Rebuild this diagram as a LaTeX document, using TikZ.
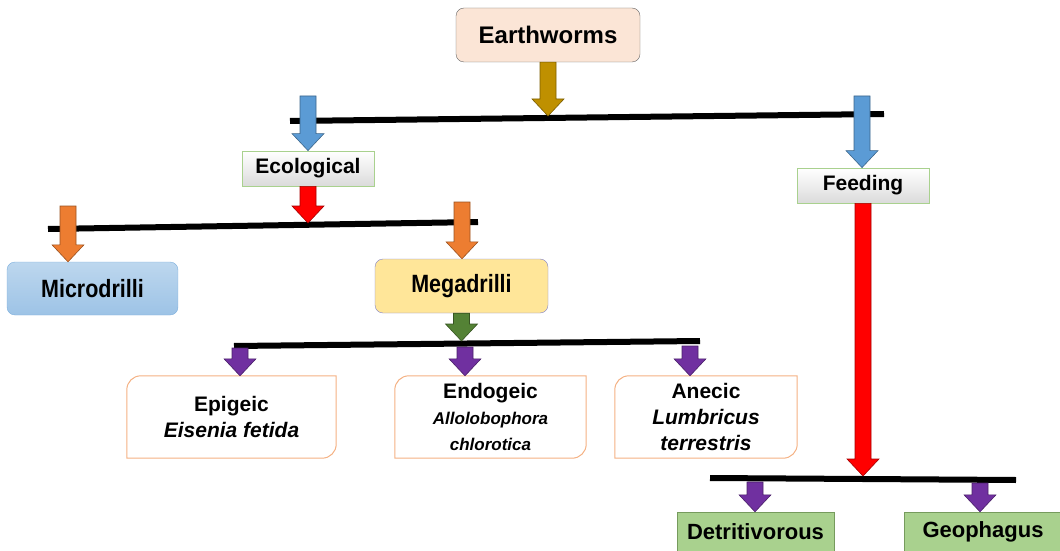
\documentclass[tikz,border=0pt]{standalone}
\usepackage{fontspec}
\setmainfont{Liberation Sans}
\usepackage{graphicx}
\usepackage{tikz}
\usetikzlibrary{calc}
\definecolor{peach}{HTML}{FBE5D6}
\definecolor{gold}{HTML}{BF9000}
\definecolor{skyblue}{HTML}{5B9BD5}
\definecolor{orng}{HTML}{ED7D31}
\definecolor{leaf}{HTML}{548235}
\definecolor{violet}{HTML}{7030A0}
\definecolor{lightgreen}{HTML}{A9D18E}
\definecolor{paleorange}{HTML}{F4B183}
\definecolor{paleblue}{HTML}{BDD7EE}
\definecolor{midblue}{HTML}{9DC3E6}
\definecolor{butter}{HTML}{FFE699}
\newcommand\spname[1]{{\itshape #1}}
\newcommand\smallsp[1]{{\fontsize{17}{22}\selectfont\itshape #1}}
\newcommand\narrow[1]{\scalebox{0.86}[1]{\fontsize{25}{28}\selectfont #1}}

\begin{document}
\begin{tikzpicture}[x=1pt,y=1pt,
  lbl/.style={font=\fontsize{21}{26}\selectfont\bfseries,inner sep=0pt,align=center},
  bar/.style={line width=6pt},
  barrow/.style={fill=#1,draw=#1!65!black,line width=0.6pt,
    to path={let \p1=(\tikztostart),\p2=(\tikztotarget) in
      (\x1-8pt,\y1) -- (\x1+8pt,\y1) -- (\x1+8pt,\y2+17pt) -- (\x1+16pt,\y2+17pt)
      -- (\x1,\y2) -- (\x1-16pt,\y2+17pt) -- (\x1-8pt,\y2+17pt) -- cycle}}]
  \useasboundingbox (0,0) rectangle (1060,550);

  \node[lbl,font=\fontsize{24}{28}\selectfont\bfseries,draw=gray!80!black,fill=peach,rounded corners=8pt,
    minimum width=184pt,minimum height=54pt] (ew) at (548,515) {Earthworms};
  \node[lbl,draw=lightgreen,line width=0.8pt,top color=white,bottom color=gray!28,
    minimum width=132pt,minimum height=35pt] (eco) at (308,381.5) {Ecological};
  \node[lbl,draw=lightgreen,line width=0.8pt,top color=white,bottom color=gray!28,
    minimum width=132pt,minimum height=35pt] (feed) at (863,364.5) {Feeding};
  \node[lbl,draw=skyblue!80,top color=paleblue,bottom color=midblue,rounded corners=8pt,
    minimum width=171pt,minimum height=53pt] (micro) at (92.5,261.5) {\narrow{Microdrilli}};
  \node[lbl,draw=gray!60!blue!70,fill=butter,rounded corners=8pt,
    minimum width=173pt,minimum height=54pt] (mega) at (461.5,264) {\narrow{Megadrilli}};
  \node[lbl,minimum width=209pt,minimum height=82pt] (epi) at (231.5,133)
    {Epigeic\\\spname{Eisenia fetida}};
  \node[lbl,minimum width=191pt,minimum height=82pt] (endo) at (490.5,133)
    {Endogeic\\\smallsp{Allolobophora}\\\smallsp{chlorotica}};
  \node[lbl,minimum width=182pt,minimum height=82pt] (ane) at (706,133)
    {Anecic\\\spname{Lumbricus}\\\spname{terrestris}};
  \node[lbl,font=\fontsize{22}{26}\selectfont\bfseries,draw=leaf!80,fill=lightgreen,
    minimum width=157pt,minimum height=40pt] (detr) at (755.5,18) {Detritivorous};
  \node[lbl,font=\fontsize{22}{26}\selectfont\bfseries,draw=leaf!80,fill=lightgreen,
    minimum width=158pt,minimum height=40pt] (geo) at (983,18) {Geophagus};

  \foreach \n in {epi,endo,ane}
    \draw[paleorange,line width=1pt] ([xshift=14pt]\n.north west) -- (\n.north east)
      -- ([yshift=14pt]\n.south east) arc[start angle=0,end angle=-90,radius=14pt]
      -- (\n.south west) -- ([yshift=-14pt]\n.north west)
      arc[start angle=180,end angle=90,radius=14pt] -- cycle;

  \coordinate (b1w) at (290,429);
  \coordinate (b1e) at (884,436);
  \coordinate (b2w) at (48,321);
  \coordinate (b2e) at (478,328);
  \coordinate (b3w) at (234,204);
  \coordinate (b3e) at (700,209);
  \coordinate (b4w) at (710,72);
  \coordinate (b4e) at (1016,70);
  \draw[bar] (b1w) -- (b1e);
  \draw[bar] (b2w) -- (b2e);
  \draw[bar] (b3w) -- (b3e);
  \draw[bar] (b4w) -- (b4e);

  \coordinate (b1m) at (546,434);
  \coordinate (ecot) at (308,454);
  \coordinate (fet) at (862,454);
  \coordinate (b2m) at (310,327);
  \coordinate (mit) at (68,344);
  \coordinate (met) at (462,348);
  \coordinate (b3m) at (465,209);
  \coordinate (p1) at (240,202);
  \coordinate (p2) at (465,203);
  \coordinate (p3) at (690,204);
  \coordinate (b4m) at (862,74);
  \coordinate (q1) at (755,68);
  \coordinate (q2) at (980,67);

  \draw[barrow=gold] (ew.south) to (b1m);
  \draw[barrow=skyblue] (ecot) to (eco.north);
  \draw[barrow=skyblue] (fet) to (feed.north);
  \draw[barrow=red] (eco.south) to (b2m);
  \draw[barrow=orng] (mit) to (micro.north);
  \draw[barrow=orng] (met) to (mega.north);
  \draw[barrow=leaf] (mega.south) to (b3m);
  \draw[barrow=violet] (p1) to (epi.north);
  \draw[barrow=violet] (p2) to (endo.north);
  \draw[barrow=violet] (p3) to (ane.north);
  \draw[barrow=red] (feed.south) to (b4m);
  \draw[barrow=violet] (q1) to (detr.north);
  \draw[barrow=violet] (q2) to (geo.north);
\end{tikzpicture}
\end{document}
